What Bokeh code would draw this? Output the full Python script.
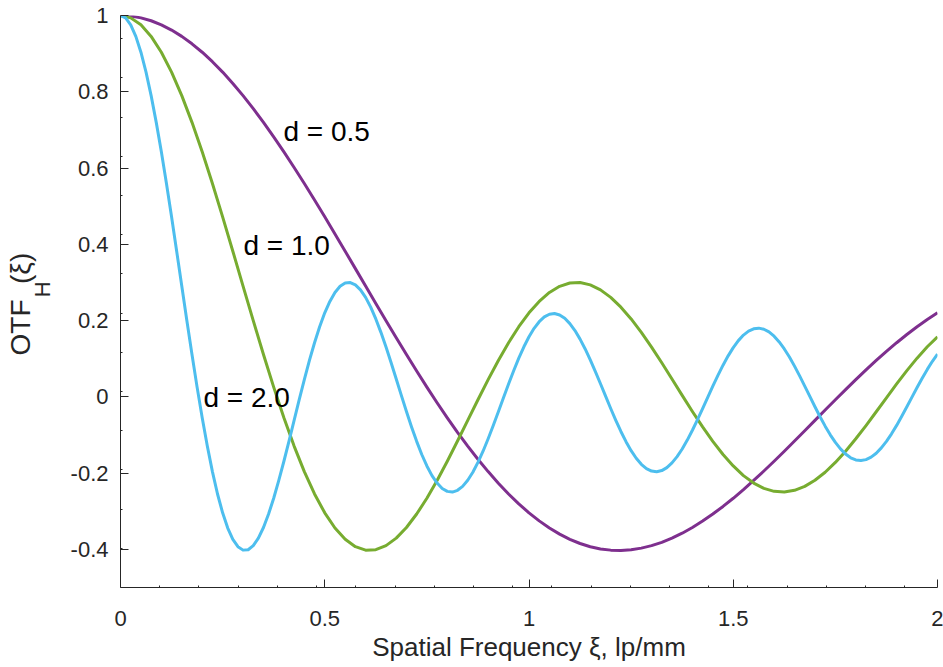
from bokeh.plotting import figure
from bokeh.models import FixedTicker, Label, Title
from bokeh.embed import file_html
from bokeh.resources import INLINE

# ---- data ----
xi_d2 = [0.0000, 0.0125, 0.0250, 0.0375, 0.0500, 0.0625, 0.0750, 0.0875,
         0.1000, 0.1125, 0.1250, 0.1375, 0.1500, 0.1625, 0.1750, 0.1875,
         0.2000, 0.2125, 0.2250, 0.2375, 0.2500, 0.2625, 0.2750, 0.2875,
         0.3000, 0.3125, 0.3250, 0.3375, 0.3500, 0.3625, 0.3750, 0.3875,
         0.4000, 0.4125, 0.4250, 0.4375, 0.4500, 0.4625, 0.4750, 0.4875,
         0.5000, 0.5125, 0.5250, 0.5375, 0.5500, 0.5625, 0.5750, 0.5875,
         0.6000, 0.6125, 0.6250, 0.6375, 0.6500, 0.6625, 0.6750, 0.6875,
         0.7000, 0.7125, 0.7250, 0.7375, 0.7500, 0.7625, 0.7750, 0.7875,
         0.8000, 0.8125, 0.8250, 0.8375, 0.8500, 0.8625, 0.8750, 0.8875,
         0.9000, 0.9125, 0.9250, 0.9375, 0.9500, 0.9625, 0.9750, 0.9875,
         1.0000, 1.0125, 1.0250, 1.0375, 1.0500, 1.0625, 1.0750, 1.0875,
         1.1000, 1.1125, 1.1250, 1.1375, 1.1500, 1.1625, 1.1750, 1.1875,
         1.2000, 1.2125, 1.2250, 1.2375, 1.2500, 1.2625, 1.2750, 1.2875,
         1.3000, 1.3125, 1.3250, 1.3375, 1.3500, 1.3625, 1.3750, 1.3875,
         1.4000, 1.4125, 1.4250, 1.4375, 1.4500, 1.4625, 1.4750, 1.4875,
         1.5000, 1.5125, 1.5250, 1.5375, 1.5500, 1.5625, 1.5750, 1.5875,
         1.6000, 1.6125, 1.6250, 1.6375, 1.6500, 1.6625, 1.6750, 1.6875,
         1.7000, 1.7125, 1.7250, 1.7375, 1.7500, 1.7625, 1.7750, 1.7875,
         1.8000, 1.8125, 1.8250, 1.8375, 1.8500, 1.8625, 1.8750, 1.8875,
         1.9000, 1.9125, 1.9250, 1.9375, 1.9500, 1.9625, 1.9750, 1.9875,
         2.0000]
otf_d2 = [1.0000, 0.9938, 0.9755, 0.9452, 0.9037, 0.8516, 0.7899, 0.7198,
          0.6424, 0.5594, 0.4720, 0.3819, 0.2905, 0.1997, 0.1109, 0.0255,
          -0.0550, -0.1292, -0.1961, -0.2548, -0.3042, -0.3440, -0.3736, -0.3930,
          -0.4020, -0.4009, -0.3902, -0.3706, -0.3427, -0.3073, -0.2660, -0.2193,
          -0.1689, -0.1159, -0.0616, -0.0076, 0.0452, 0.0954, 0.1419, 0.1839,
          0.2204, 0.2503, 0.2737, 0.2898, 0.2985, 0.2997, 0.2935, 0.2805,
          0.2608, 0.2352, 0.2043, 0.1691, 0.1304, 0.0894, 0.0468, 0.0039,
          -0.0383, -0.0789, -0.1167, -0.1512, -0.1812, -0.2066, -0.2261, -0.2402,
          -0.2479, -0.2497, -0.2451, -0.2348, -0.2187, -0.1977, -0.1720, -0.1426,
          -0.1100, -0.0753, -0.0391, -0.0025, 0.0337, 0.0686, 0.1014, 0.1313,
          0.1575, 0.1797, 0.1970, 0.2095, 0.2166, 0.2184, 0.2147, 0.2059,
          0.1920, 0.1738, 0.1513, 0.1255, 0.0969, 0.0662, 0.0342, 0.0017,
          -0.0305, -0.0616, -0.0909, -0.1176, -0.1412, -0.1611, -0.1769, -0.1882,
          -0.1947, -0.1965, -0.1934, -0.1856, -0.1733, -0.1568, -0.1367, -0.1134,
          -0.0876, -0.0598, -0.0308, -0.0013, 0.0280, 0.0563, 0.0830, 0.1075,
          0.1291, 0.1474, 0.1619, 0.1723, 0.1784, 0.1801, 0.1773, 0.1703,
          0.1591, 0.1440, 0.1256, 0.1043, 0.0805, 0.0549, 0.0282, 0.0010,
          -0.0260, -0.0522, -0.0769, -0.0996, -0.1196, -0.1366, -0.1501, -0.1598,
          -0.1656, -0.1672, -0.1647, -0.1582, -0.1478, -0.1339, -0.1168, -0.0970,
          -0.0749, -0.0511, -0.0262, -0.0008, 0.0244, 0.0489, 0.0720, 0.0932,
          0.1120]

xi_d1 = [0.000, 0.025, 0.050, 0.075, 0.100, 0.125, 0.150, 0.175,
         0.200, 0.225, 0.250, 0.275, 0.300, 0.325, 0.350, 0.375,
         0.400, 0.425, 0.450, 0.475, 0.500, 0.525, 0.550, 0.575,
         0.600, 0.625, 0.650, 0.675, 0.700, 0.725, 0.750, 0.775,
         0.800, 0.825, 0.850, 0.875, 0.900, 0.925, 0.950, 0.975,
         1.000, 1.025, 1.050, 1.075, 1.100, 1.125, 1.150, 1.175,
         1.200, 1.225, 1.250, 1.275, 1.300, 1.325, 1.350, 1.375,
         1.400, 1.425, 1.450, 1.475, 1.500, 1.525, 1.550, 1.575,
         1.600, 1.625, 1.650, 1.675, 1.700, 1.725, 1.750, 1.775,
         1.800, 1.825, 1.850, 1.875, 1.900, 1.925, 1.950, 1.975,
         2.000]
otf_d1 = [1.0000, 0.9938, 0.9755, 0.9452, 0.9037, 0.8516, 0.7899, 0.7198,
          0.6424, 0.5594, 0.4720, 0.3819, 0.2905, 0.1997, 0.1109, 0.0255,
          -0.0550, -0.1292, -0.1961, -0.2548, -0.3042, -0.3440, -0.3736, -0.3930,
          -0.4020, -0.4009, -0.3902, -0.3706, -0.3427, -0.3073, -0.2660, -0.2193,
          -0.1689, -0.1159, -0.0616, -0.0076, 0.0452, 0.0954, 0.1419, 0.1839,
          0.2204, 0.2503, 0.2737, 0.2898, 0.2985, 0.2997, 0.2935, 0.2805,
          0.2608, 0.2352, 0.2043, 0.1691, 0.1304, 0.0894, 0.0468, 0.0039,
          -0.0383, -0.0789, -0.1167, -0.1512, -0.1812, -0.2066, -0.2261, -0.2402,
          -0.2479, -0.2497, -0.2451, -0.2348, -0.2187, -0.1977, -0.1720, -0.1426,
          -0.1100, -0.0753, -0.0391, -0.0025, 0.0337, 0.0686, 0.1014, 0.1313,
          0.1575]

xi_d05 = [0.000, 0.025, 0.050, 0.075, 0.100, 0.125, 0.150, 0.175,
          0.200, 0.225, 0.250, 0.275, 0.300, 0.325, 0.350, 0.375,
          0.400, 0.425, 0.450, 0.475, 0.500, 0.525, 0.550, 0.575,
          0.600, 0.625, 0.650, 0.675, 0.700, 0.725, 0.750, 0.775,
          0.800, 0.825, 0.850, 0.875, 0.900, 0.925, 0.950, 0.975,
          1.000, 1.025, 1.050, 1.075, 1.100, 1.125, 1.150, 1.175,
          1.200, 1.225, 1.250, 1.275, 1.300, 1.325, 1.350, 1.375,
          1.400, 1.425, 1.450, 1.475, 1.500, 1.525, 1.550, 1.575,
          1.600, 1.625, 1.650, 1.675, 1.700, 1.725, 1.750, 1.775,
          1.800, 1.825, 1.850, 1.875, 1.900, 1.925, 1.950, 1.975,
          2.000]
otf_d05 = [1.0000, 0.9984, 0.9938, 0.9862, 0.9755, 0.9618, 0.9452, 0.9258,
           0.9037, 0.8789, 0.8516, 0.8219, 0.7899, 0.7558, 0.7198, 0.6819,
           0.6424, 0.6015, 0.5594, 0.5161, 0.4720, 0.4272, 0.3819, 0.3362,
           0.2905, 0.2449, 0.1997, 0.1550, 0.1109, 0.0677, 0.0255, -0.0155,
           -0.0550, -0.0930, -0.1292, -0.1636, -0.1961, -0.2265, -0.2548, -0.2807,
           -0.3042, -0.3253, -0.3440, -0.3601, -0.3736, -0.3846, -0.3930, -0.3988,
           -0.4020, -0.4027, -0.4009, -0.3967, -0.3902, -0.3815, -0.3706, -0.3576,
           -0.3427, -0.3258, -0.3073, -0.2874, -0.2660, -0.2432, -0.2193, -0.1945,
           -0.1689, -0.1426, -0.1159, -0.0888, -0.0616, -0.0345, -0.0076, 0.0190,
           0.0452, 0.0707, 0.0954, 0.1192, 0.1419, 0.1635, 0.1839, 0.2029,
           0.2204]

x_ticks = [0, 0.5, 1, 1.5, 2]
x_tick_labels = ["0", "0.5", "1", "1.5", "2"]
y_ticks = [-0.4, -0.2, 0, 0.2, 0.4, 0.6, 0.8, 1]
y_tick_labels = ["-0.4", "-0.2", "0", "0.2", "0.4", "0.6", "0.8", "1"]

curve_labels = ["d = 0.5", "d = 1.0", "d = 2.0"]
colors = ["#7E2F8E", "#77AC30", "#4DBEEE"]

FONT = "Liberation Sans"
AXC = "#262626"
NB = "\u00a0"

p = figure(width=943, height=667, x_range=(0, 2), y_range=(-0.5, 1),
           output_backend="svg", toolbar_location=None,
           min_border_left=120, min_border_right=6,
           min_border_top=15, min_border_bottom=80)
p.outline_line_color = None
p.grid.visible = False

x_minor = [round(k * 0.0960, 4) for k in range(1, 21)]
y_minor = [round(-0.5 + k * 0.1028, 4) for k in range(1, 15)]

p.xaxis.ticker = FixedTicker(ticks=x_ticks, minor_ticks=x_minor)
p.yaxis.ticker = FixedTicker(ticks=y_ticks, minor_ticks=y_minor)
p.xaxis.major_label_overrides = {t: s for t, s in zip(x_ticks, x_tick_labels)}
p.yaxis.major_label_overrides = {t: s for t, s in zip(y_ticks, y_tick_labels)}

for ax in (p.xaxis, p.yaxis):
    ax.axis_line_color = AXC
    ax.major_tick_line_color = AXC
    ax.minor_tick_line_color = AXC
    ax.major_tick_in = 8
    ax.major_tick_out = 0
    ax.minor_tick_in = 2
    ax.minor_tick_out = 0
    ax.major_label_text_font = FONT
    ax.major_label_text_font_size = "22px"
    ax.major_label_text_color = AXC
    ax.axis_label_text_font = FONT
    ax.axis_label_text_font_style = "normal"
    ax.axis_label_text_color = AXC
p.xaxis.major_label_standoff = 23
p.yaxis.major_label_standoff = 12

p.xaxis.axis_label = "Spatial Frequency \u03be, lp/mm"
p.xaxis.axis_label_text_font_size = "26px"
p.xaxis.axis_label_standoff = 3

# y label: OTF_H(xi) -> subscript H as the axis label, the rest as a side title
p.yaxis.axis_label = NB * 4 + "H"
p.yaxis.axis_label_text_font_size = "22px"
p.yaxis.axis_label_standoff = 13
ylab = Title(text="OTF" + NB * 2 + "(\u03be)", align="left", offset=232, standoff=-19,
             text_font=FONT, text_font_size="28px", text_font_style="normal",
             text_color=AXC)
p.add_layout(ylab, "left")

p.line(xi_d05, otf_d05, line_color=colors[0], line_width=3, line_join="round")
p.line(xi_d1, otf_d1, line_color=colors[1], line_width=3, line_join="round")
p.line(xi_d2, otf_d2, line_color=colors[2], line_width=3, line_join="round")

# curve annotations
ann_pos = [(0.399, 0.697), (0.301, 0.396), (0.203, -0.003)]
for (ax_, ay_), t in zip(ann_pos, curve_labels):
    p.add_layout(Label(x=ax_, y=ay_, text=t, text_font=FONT, text_font_size="28px",
                       text_color="black", text_align="left", text_baseline="alphabetic"))

open("out.html", "w").write(file_html(p, INLINE))
